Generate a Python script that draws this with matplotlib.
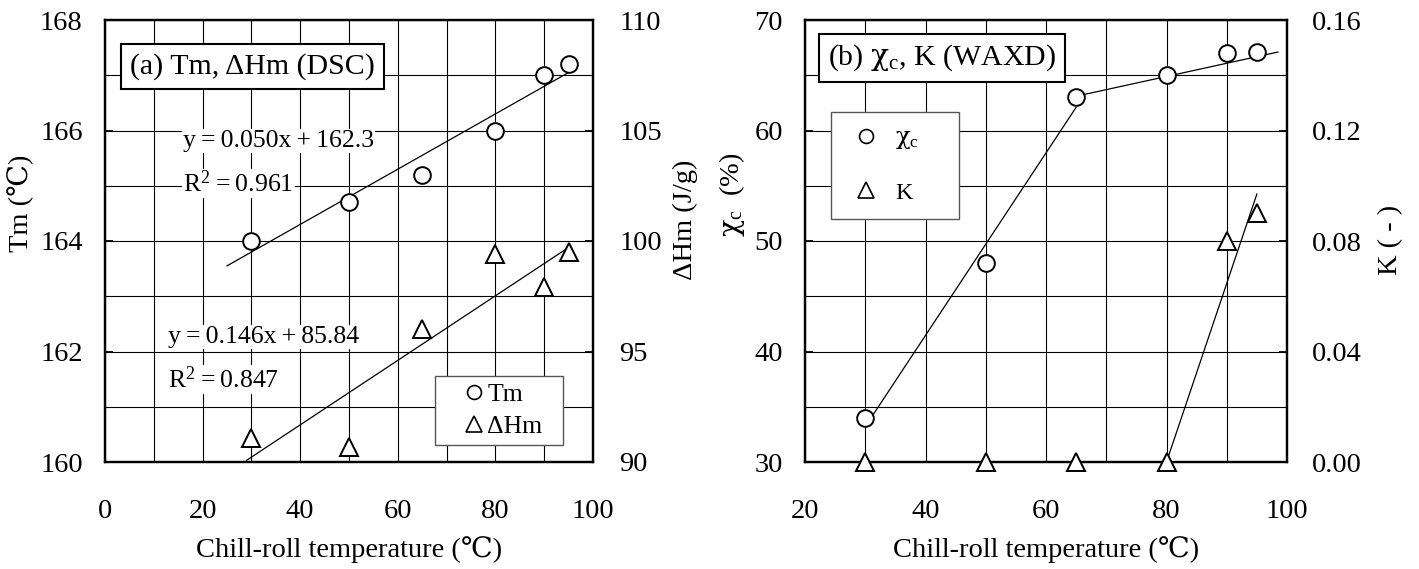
import numpy as np
import matplotlib
matplotlib.use('Agg')
import matplotlib.pyplot as plt
from matplotlib.lines import Line2D
from matplotlib.ticker import MultipleLocator, FormatStrFormatter
from matplotlib.legend_handler import HandlerLine2D

plt.rcParams['font.family'] = ['Liberation Serif', 'DejaVu Serif', 'Noto Sans CJK JP']
plt.rcParams['mathtext.fontset'] = 'custom'
plt.rcParams['mathtext.rm'] = 'Liberation Serif'
plt.rcParams['mathtext.it'] = 'Liberation Serif:italic'
plt.rcParams['mathtext.sf'] = 'DejaVu Serif'

# ---------------- data ----------------
temp = [30, 50, 65, 80, 90, 95]              # chill-roll temperature (C)
tm = [164.0, 164.7, 165.2, 166.0, 167.0, 167.2]   # Tm (C)
dhm = [91.1, 90.7, 96.0, 99.4, 97.9, 99.5]        # dHm (J/g)
tm_fit = [0.050, 162.3]          # slope, intercept
dhm_fit = [0.146, 85.84]
tm_fit_range = [25, 95]
dhm_fit_range = [29, 95]
TS = '\u2009'
tm_fit_text = [f'y{TS}={TS}0.050x{TS}+{TS}162.3', f'R$^{{2}}${TS}={TS}0.961']
dhm_fit_text = [f'y{TS}={TS}0.146x{TS}+{TS}85.84', f'R$^{{2}}${TS}={TS}0.847']

chi = [34.0, 48.0, 63.0, 65.0, 67.0, 67.1]        # crystallinity (%)
kval = [0.0, 0.0, 0.0, 0.0, 0.080, 0.090]         # K (-)
chi_guide1_x = [30, 65]
chi_guide1_y = [33.2, 62.1]
chi_guide2_x = [65, 98.5]
chi_guide2_y = [63.1, 67.1]
k_guide_x = [80, 95]
k_guide_y = [0.0, 0.097]

CHI = r'$\mathsf{χ}_{\mathrm{c}}$'

FS = 20.5
W, H = 1419, 569

fig = plt.figure(figsize=(W / 100, H / 100), dpi=100)
axA = fig.add_axes([105 / W, 107 / H, 488 / W, 442 / H])
axB = fig.add_axes([805 / W, 107 / H, 482 / W, 442 / H])


def style(ax, xmaj, xmin, ymaj, ymin, lpad):
    ax.xaxis.set_major_locator(MultipleLocator(xmaj))
    ax.xaxis.set_minor_locator(MultipleLocator(xmin))
    ax.yaxis.set_major_locator(MultipleLocator(ymaj))
    ax.yaxis.set_minor_locator(MultipleLocator(ymin))
    ax.set_axisbelow(True)
    ax.grid(True, which='both', color='black', lw=0.8)
    ax.tick_params(which='both', direction='in', top=False, right=False)
    ax.tick_params(axis='x', which='major', length=0, labelsize=FS, pad=27)
    ax.tick_params(axis='y', which='major', length=6, width=1.3, labelsize=FS, pad=lpad)
    ax.tick_params(which='minor', length=0)
    for s in ax.spines.values():
        s.set_linewidth(1.6)


def style_twin(tw, ymaj, rpad):
    tw.yaxis.set_major_locator(MultipleLocator(ymaj))
    tw.tick_params(axis='y', direction='in', length=6, width=1.3, labelsize=FS, pad=rpad)
    for s in tw.spines.values():
        s.set_linewidth(1.6)


mk_c = dict(marker='o', ms=12, mfc='white', mec='black', mew=1.4, ls='none', zorder=5)
mk_t = dict(marker='^', ms=13.5, mfc='white', mec='black', mew=1.4, ls='none', zorder=5)

# ---------------- panel (a) ----------------
axA.set_xlim(0, 100)
axA.set_ylim(160, 168)
style(axA, 20, 10, 2, 1, 16)
twA = axA.twinx()
twA.set_ylim(90, 110)
style_twin(twA, 5, 19)

xr = np.array(tm_fit_range, dtype=float)
axA.plot(xr, tm_fit[0] * xr + tm_fit[1], color='black', lw=0.9, zorder=3)
axA.plot(temp, tm, **mk_c)
xr = np.array(dhm_fit_range, dtype=float)
twA.plot(xr, dhm_fit[0] * xr + dhm_fit[1], color='black', lw=0.9, zorder=3)
twA.plot(temp, dhm, clip_on=False, **mk_t)

tb = dict(boxstyle='square,pad=0.05', fc='white', ec='none')
FA = 18.5
axA.text(16.0, 165.70, tm_fit_text[0], fontsize=FA, va='baseline', ha='left', bbox=tb, zorder=4)
axA.text(16.0, 164.89, tm_fit_text[1], fontsize=FA, va='baseline', ha='left', bbox=tb, zorder=4)
axA.text(12.9, 162.15, dhm_fit_text[0], fontsize=FA, va='baseline', ha='left', bbox=tb, zorder=4)
axA.text(12.9, 161.34, dhm_fit_text[1], fontsize=FA, va='baseline', ha='left', bbox=tb, zorder=4)

axA.text(0.051, 0.879, '(a) Tm, ΔHm (DSC)', transform=axA.transAxes, fontsize=21.5,
         ha='left', va='baseline', zorder=6,
         bbox=dict(boxstyle='square,pad=0.3', fc='white', ec='black', lw=1.5))

axA.set_xlabel('Chill-roll temperature (℃)', fontsize=FS)
axA.xaxis.label.set_va('baseline')
axA.xaxis.set_label_coords(0.5, (462 - 557) / 442)
axA.set_ylabel('Tm (℃)', fontsize=FS)
axA.yaxis.label.set_va('baseline')
axA.yaxis.set_label_coords((28 - 105) / 488, (462 - 203) / 442)
twA.set_ylabel('ΔHm (J/g)', fontsize=FS)
twA.yaxis.label.set_va('baseline')
twA.yaxis.set_label_coords((692 - 105) / 488, (462 - 220) / 442)

hA = [Line2D([], [], marker='o', ms=10, mfc='white', mec='black', mew=1.2, ls='none', label='Tm'),
      Line2D([], [], marker='^', ms=11, mfc='white', mec='black', mew=1.2, ls='none', label='ΔHm')]
legA = twA.legend(handles=hA, loc='upper left',
                  bbox_to_anchor=((435 - 105) / 488, (462 - 450) / 442, 128 / 488, 74 / 442),
                  mode='expand', borderaxespad=0, fontsize=18.5, frameon=True, fancybox=False,
                  framealpha=1, edgecolor='#555555', borderpad=0.26, labelspacing=0.36,
                  handlelength=1.62, handletextpad=0.15,
                  handler_map={Line2D: HandlerLine2D(xpad=0.9)})
legA.get_frame().set_linewidth(1.0)
legA.set_zorder(10)

# ---------------- panel (b) ----------------
axB.set_xlim(20, 100)
axB.set_ylim(30, 70)
style(axB, 20, 10, 10, 5, 16)
twB = axB.twinx()
twB.set_ylim(0, 0.16)
style_twin(twB, 0.04, 18)
twB.yaxis.set_major_formatter(FormatStrFormatter('%.2f'))

axB.plot(chi_guide1_x, chi_guide1_y, color='black', lw=0.9, zorder=3)
axB.plot(chi_guide2_x, chi_guide2_y, color='black', lw=0.9, zorder=3)
axB.plot(temp, chi, **mk_c)
twB.plot(k_guide_x, k_guide_y, color='black', lw=0.9, zorder=3)
twB.plot(temp, kval, clip_on=False, **mk_t)

axB.text(0.048, 0.898, '(b) ' + CHI + ', K (WAXD)', transform=axB.transAxes, fontsize=21.5,
         ha='left', va='baseline', zorder=6,
         bbox=dict(boxstyle='square,pad=0.3', fc='white', ec='black', lw=1.5))

axB.set_xlabel('Chill-roll temperature (℃)', fontsize=FS)
axB.xaxis.label.set_va('baseline')
axB.xaxis.set_label_coords(0.5, (462 - 557) / 442)
axB.set_ylabel(CHI + '  (%)', fontsize=FS)
axB.yaxis.label.set_va('baseline')
axB.yaxis.set_label_coords((739 - 805) / 482, (462 - 195) / 442)
twB.set_ylabel('K ( - )', fontsize=FS)
twB.yaxis.label.set_va('baseline')
twB.yaxis.set_label_coords((1397 - 805) / 482, (462 - 240) / 442)

hB = [Line2D([], [], marker='o', ms=10, mfc='white', mec='black', mew=1.2, ls='none', label=CHI),
      Line2D([], [], marker='^', ms=11, mfc='white', mec='black', mew=1.2, ls='none', label='K')]
legB = twB.legend(handles=hB, loc='upper left',
                  bbox_to_anchor=((831 - 805) / 482, (462 - 222) / 442, 128 / 482, 110 / 442),
                  mode='expand', borderaxespad=0, fontsize=17.5, frameon=True, fancybox=False,
                  framealpha=1, edgecolor='#555555', borderpad=0.63, labelspacing=1.26,
                  handlelength=1.2, handletextpad=0.8,
                  handler_map={Line2D: HandlerLine2D(xpad=0.42)})
legB.get_frame().set_linewidth(1.0)
legB.set_zorder(10)

fig.savefig('out.png', dpi=100)
